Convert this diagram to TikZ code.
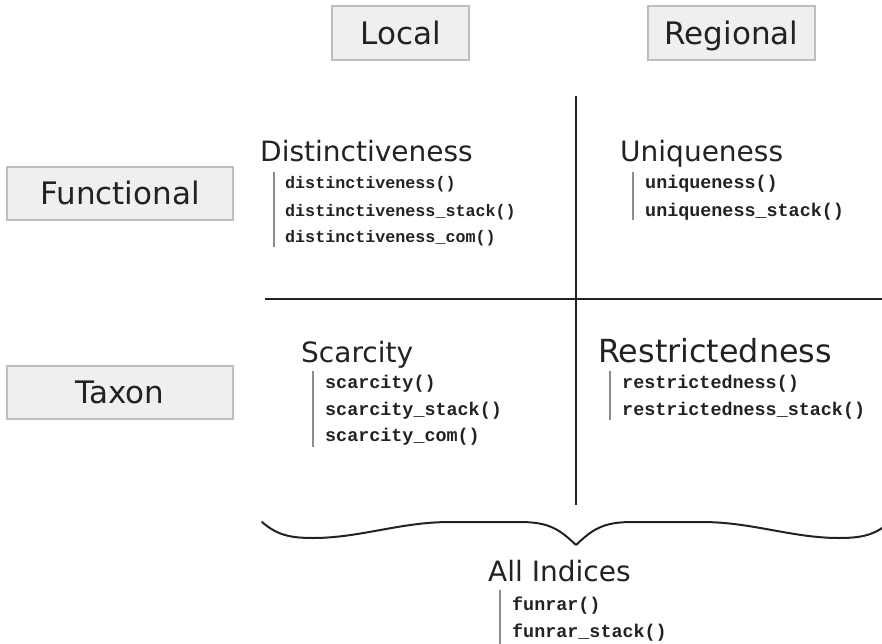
\documentclass[tikz,border=0pt]{standalone}
\usepackage{fontspec}
\newfontfamily\hfont{DejaVu Sans}
\newfontfamily\codefont{Liberation Mono}
\begin{document}
\begin{tikzpicture}[x=1pt,y=-1pt,
  catbox/.style={draw=boxgray,fill=boxfill,line width=1.4pt,inner sep=0pt,
    minimum height=54pt,text=txt,text height=22.6pt,text depth=0pt,
    font=\hfont\fontsize{31}{31}\selectfont},
  head/.style={anchor=base west,inner sep=0pt,text=txt,font=\hfont\fontsize{28}{28}\selectfont},
  code/.style={anchor=base west,inner sep=0pt,text=txt,font=\codefont\bfseries\fontsize{18.4}{18.4}\selectfont},
  codes/.style={code,font=\codefont\bfseries\fontsize{16.7}{16.7}\selectfont},
  bar/.style={draw=bargray,line width=1.2pt},
  axis/.style={draw=txt,line width=1.8pt}]
\definecolor{boxgray}{HTML}{BEBEBE}
\definecolor{boxfill}{HTML}{EFEFEF}
\definecolor{txt}{HTML}{222222}
\definecolor{bargray}{HTML}{8C8C8C}
\useasboundingbox (0,0) rectangle (882,644);
\clip (0,0) rectangle (882,644);

% category boxes
\node[catbox,minimum width=137pt] (local) at (400.5,33) {Local};
\node[catbox,minimum width=167pt] (regional) at (731.5,33) {Regional};
\node[catbox,minimum width=226pt,minimum height=53pt] (functional) at (120,193.5) {Functional};
\node[catbox,minimum width=226pt,minimum height=53pt] (taxon) at (120,392.5) {Taxon};

% axes
\coordinate (vtop) at (576,96);
\coordinate (vbot) at (576,505);
\coordinate (hl) at (265,299);
\coordinate (hr) at (882,299);
\draw[axis] (vtop) -- (vbot);
\draw[axis] (hl) -- (hr);

% Distinctiveness
\node[head] (dist) at (260,162) {Distinctiveness};
\node[codes] (d1) at (285,189) {distinctiveness()};
\node[codes] (d2) at (285,216) {distinctiveness\_stack()};
\node[codes] (d3) at (285,242) {distinctiveness\_com()};
\coordinate (db1) at (274,172); \coordinate (db2) at (274,247);
\draw[bar] (db1) -- (db2);

% Uniqueness
\node[head] (uniq) at (620,162) {Uniqueness};
\node[code] (u1) at (645,189) {uniqueness()};
\node[code] (u2) at (645,216) {uniqueness\_stack()};
\coordinate (ub1) at (633,172); \coordinate (ub2) at (633,220);
\draw[bar] (ub1) -- (ub2);

% Scarcity
\node[head] (scar) at (301,362) {Scarcity};
\node[code] (s1) at (325,388) {scarcity()};
\node[code] (s2) at (325,415) {scarcity\_stack()};
\node[code] (s3) at (325,441) {scarcity\_com()};
\coordinate (sb1) at (313,371); \coordinate (sb2) at (313,447);
\draw[bar] (sb1) -- (sb2);

% Restrictedness
\node[head,font=\hfont\fontsize{31.8}{31.8}\selectfont] (restr) at (598,362) {Restrictedness};
\node[code] (r1) at (622,388) {restrictedness()};
\node[code] (r2) at (622,415) {restrictedness\_stack()};
\coordinate (rb1) at (610,371); \coordinate (rb2) at (610,420);
\draw[bar] (rb1) -- (rb2);

% brace
\coordinate (bl) at (262,522);
\coordinate (btip) at (576,545);
\coordinate (br) at (890,522);
\draw[txt,line width=2pt,line cap=round,line join=round]
  (bl) .. controls (277,535) and (290,538) .. (313,538)
  .. controls (360,538) and (400,522) .. (450,522)
  -- (520,522) .. controls (550,522) and (560,530) .. (btip)
  .. controls (592,530) and (602,522) .. (632,522)
  -- (702,522) .. controls (752,522) and (792,538) .. (839,538)
  .. controls (862,538) and (875,535) .. (br);

% All indices
\node[head] (all) at (488,581) {All Indices};
\node[code] (f1) at (512,610) {funrar()};
\node[code] (f2) at (512,637) {funrar\_stack()};
\coordinate (fb1) at (500,590); \coordinate (fb2) at (500,648);
\draw[bar] (fb1) -- (fb2);
\end{tikzpicture}
\end{document}
